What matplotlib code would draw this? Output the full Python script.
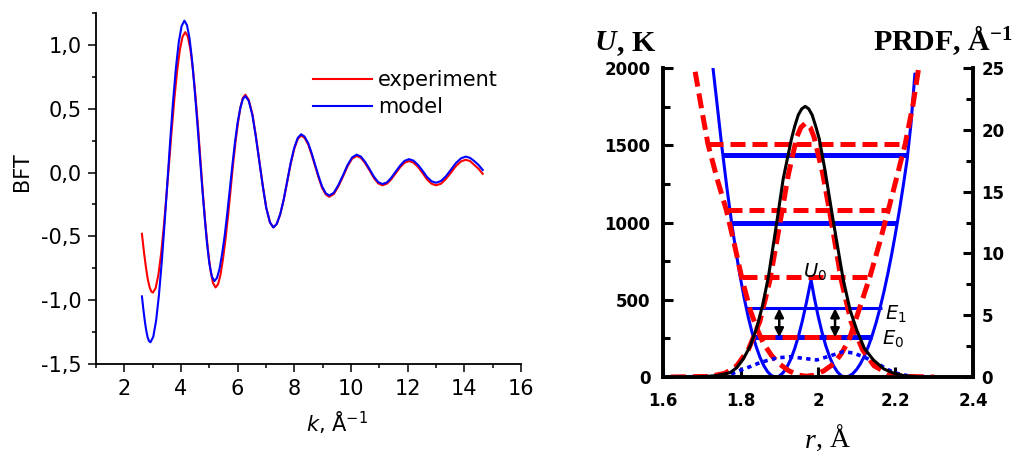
import matplotlib.pyplot as plt
from matplotlib.ticker import MultipleLocator

# ---- left panel: BFT(k) ----
k_exp = [2.62, 2.69, 2.76, 2.83, 2.90, 2.96,
         3.01, 3.105, 3.20, 3.295, 3.39, 3.485, 3.58, 3.675, 3.77, 3.865, 3.96, 4.055,
         4.15, 4.24, 4.33, 4.42, 4.51, 4.60, 4.685, 4.77, 4.86, 4.95, 5.04, 5.13,
         5.22, 5.31, 5.395, 5.48, 5.57, 5.66, 5.745, 5.83, 5.92, 6.01, 6.095, 6.18,
         6.27, 6.39, 6.52, 6.64, 6.765, 6.89, 7.01, 7.14,
         7.26, 7.38, 7.505, 7.63, 7.75, 7.87, 7.995, 8.12,
         8.24, 8.36, 8.49, 8.61, 8.735, 8.86, 8.98, 9.11,
         9.23, 9.39, 9.55, 9.72, 9.88, 10.04, 10.20,
         10.35, 10.50, 10.66, 10.81, 10.96, 11.11,
         11.27, 11.42, 11.58, 11.74, 11.89, 12.05,
         12.21, 12.37, 12.53, 12.68, 12.84, 13.00,
         13.18, 13.35, 13.53, 13.70, 13.88, 14.05,
         14.20, 14.35, 14.50, 14.65]
bft_exp = [-0.48, -0.62, -0.74, -0.84, -0.905, -0.935,
           -0.94, -0.905, -0.803, -0.641, -0.43, -0.184, 0.08, 0.344, 0.59, 0.801, 0.963, 1.065,
           1.10, 1.066, 0.966, 0.807, 0.60, 0.359, 0.10, -0.159, -0.40, -0.607, -0.766, -0.866,
           -0.90, -0.874, -0.799, -0.679, -0.523, -0.340, -0.145, 0.050, 0.233, 0.389, 0.509, 0.584,
           0.61, 0.570, 0.458, 0.289, 0.09, -0.109, -0.278, -0.390,
           -0.43, -0.403, -0.325, -0.208, -0.07, 0.068, 0.185, 0.263,
           0.29, 0.272, 0.220, 0.142, 0.05, -0.042, -0.120, -0.172,
           -0.19, -0.169, -0.11, -0.03, 0.05, 0.109, 0.13,
           0.115, 0.073, 0.015, -0.043, -0.085, -0.10,
           -0.087, -0.053, -0.005, 0.043, 0.077, 0.09,
           0.077, 0.043, -0.005, -0.053, -0.087, -0.10,
           -0.087, -0.05, 0.0, 0.05, 0.087, 0.10,
           0.09, 0.06, 0.03, -0.01]

k_mod = [2.62, 2.67, 2.72, 2.77, 2.82, 2.87,
         2.92, 3.02, 3.12, 3.22, 3.32, 3.42, 3.52, 3.62, 3.72, 3.82, 3.92, 4.02,
         4.12, 4.21, 4.30, 4.385, 4.47, 4.56, 4.65, 4.74, 4.83, 4.915, 5.00, 5.09,
         5.18, 5.27, 5.36, 5.45, 5.545, 5.635, 5.725, 5.815, 5.905, 5.995, 6.09, 6.18,
         6.27, 6.39, 6.52, 6.64, 6.765, 6.89, 7.01, 7.14,
         7.26, 7.38, 7.505, 7.63, 7.75, 7.87, 7.995, 8.12,
         8.24, 8.36, 8.49, 8.61, 8.735, 8.86, 8.98, 9.11,
         9.23, 9.39, 9.55, 9.72, 9.88, 10.04, 10.20,
         10.35, 10.50, 10.66, 10.81, 10.96, 11.11,
         11.27, 11.42, 11.58, 11.74, 11.89, 12.05,
         12.21, 12.37, 12.53, 12.68, 12.84, 13.00,
         13.18, 13.35, 13.53, 13.70, 13.88, 14.05,
         14.20, 14.35, 14.50, 14.65]
bft_mod = [-0.97, -1.07, -1.16, -1.235, -1.29, -1.32,
           -1.33, -1.287, -1.161, -0.961, -0.70, -0.396, -0.07, 0.256, 0.56, 0.821, 1.021, 1.147,
           1.19, 1.155, 1.053, 0.891, 0.68, 0.434, 0.17, -0.094, -0.34, -0.551, -0.713, -0.815,
           -0.85, -0.825, -0.753, -0.638, -0.488, -0.313, -0.125, 0.063, 0.238, 0.388, 0.503, 0.575,
           0.60, 0.561, 0.449, 0.282, 0.085, -0.112, -0.279, -0.391,
           -0.43, -0.402, -0.323, -0.205, -0.065, 0.075, 0.193, 0.272,
           0.30, 0.282, 0.230, 0.152, 0.06, -0.032, -0.110, -0.162,
           -0.18, -0.159, -0.10, -0.02, 0.06, 0.119, 0.14,
           0.125, 0.083, 0.025, -0.033, -0.075, -0.09,
           -0.077, -0.041, 0.008, 0.056, 0.092, 0.105,
           0.093, 0.059, 0.013, -0.034, -0.068, -0.08,
           -0.066, -0.029, 0.023, 0.074, 0.111, 0.125,
           0.115, 0.09, 0.06, 0.02]

bft_yticks = [-1.5, -1.0, -0.5, 0.0, 0.5, 1.0]
bft_ylabels = ["-1,5", "-1,0", "-0,5", "0,0", "0,5", "1,0"]
k_xticks = [2, 4, 6, 8, 10, 12, 14, 16]

# ---- right panel: potentials U(r) in K ----
r_pot_dw = [1.729, 1.74, 1.752, 1.765, 1.778, 1.79, 1.80, 1.81, 1.82, 1.83,
            1.84, 1.85, 1.86, 1.87, 1.88, 1.891,
            1.90, 1.91, 1.92, 1.93, 1.94, 1.95, 1.96, 1.97, 1.982,
            1.99, 2.00, 2.01, 2.02, 2.03, 2.04, 2.05, 2.06, 2.07,
            2.08, 2.09, 2.10, 2.11, 2.12, 2.13, 2.14, 2.15, 2.16, 2.17,
            2.18, 2.19, 2.20, 2.21, 2.22, 2.23, 2.24, 2.25]
u_pot_dw = [2000, 1756, 1488, 1222, 983, 785, 638, 505, 388, 287,
            200, 129, 74, 34, 9, 0,
            6, 28, 65, 117, 185, 268, 367, 481, 630,
            520, 398, 293, 203, 130, 73, 33, 8, 0,
            6, 22, 50, 88, 138, 198, 270, 352, 446, 550,
            666, 792, 930, 1078, 1238, 1408, 1640, 1960]

r_pot_sw = [1.683, 1.70, 1.716, 1.74, 1.764, 1.785, 1.803, 1.825, 1.842, 1.859,
            1.88, 1.90, 1.925, 1.95, 1.97, 1.99, 2.015, 2.04, 2.06, 2.08,
            2.10, 2.117, 2.134, 2.158, 2.181, 2.203, 2.225, 2.245, 2.259]
u_pot_sw = [1976, 1730, 1508, 1280, 1076, 850, 645, 434, 315, 218,
            140, 85, 40, 12, 5, 12, 40, 85, 150, 240,
            390, 520, 649, 860, 1076, 1290, 1508, 1760, 1987]

# energy levels: (U, r_left, r_right)
levels_dw = [(1440, 1.752, 2.231), (995, 1.775, 2.203), (257, 1.836, 2.140)]
level_e1 = (445, 1.815, 2.165)
levels_sw = [(1508, 1.716, 2.225), (1078, 1.764, 2.181), (645, 1.803, 2.134),
             (258, 1.850, 2.082)]

# ---- right panel: PRDF, 1/A ----
r_prdf_black = [1.70, 1.74, 1.773, 1.79, 1.807, 1.825, 1.842, 1.857, 1.872, 1.893,
                1.91, 1.931, 1.94, 1.949, 1.958, 1.967, 1.976, 1.985, 1.994, 2.003,
                2.018, 2.04, 2.065, 2.083,
                2.10, 2.12, 2.143, 2.17, 2.194, 2.22, 2.25]
prdf_black = [0.02, 0.12, 0.35, 0.75, 1.45, 2.5, 4.0, 5.8, 8.1, 12.4,
              16.0, 19.2, 20.3, 21.2, 21.7, 21.9, 21.7, 21.2, 20.3, 19.3,
              16.75, 12.5, 7.9, 5.4,
              3.8, 2.3, 1.38, 0.65, 0.33, 0.12, 0.03]

r_prdf_red = [1.62, 1.72, 1.76, 1.79, 1.82, 1.85, 1.876, 1.902, 1.923, 1.945,
              1.956, 1.968, 1.98, 1.99, 2.012, 2.035, 2.06, 2.085, 2.115, 2.145,
              2.18, 2.22, 2.30]
prdf_red = [0, 0.05, 0.3, 0.9, 2.2, 4.5, 7.85, 12.5, 16.3, 19.4,
            20.2, 20.55, 20.2, 19.4, 16.5, 12.5, 7.85, 4.5, 2.2, 0.9,
            0.3, 0.05, 0]

r_prdf_blue = [1.62, 1.70, 1.75, 1.781, 1.80, 1.825, 1.845, 1.868, 1.895, 1.928,
               1.96, 1.997, 2.03, 2.065, 2.09, 2.117, 2.14, 2.16, 2.18, 2.203,
               2.24, 2.30]
prdf_blue = [0, 0, 0.05, 0.3, 0.55, 0.84, 1.1, 1.33, 1.55, 1.64,
             1.52, 1.38, 1.7, 2.05, 1.95, 1.64, 1.3, 0.97, 0.6, 0.3,
             0.05, 0]

u_ticks = [0, 500, 1000, 1500, 2000]
prdf_ticks = [0, 5, 10, 15, 20, 25]
r_ticks = [1.6, 1.8, 2.0, 2.2, 2.4]
r_ticklabels = ["1.6", "1.8", "2", "2.2", "2.4"]

RED = "#ff0000"
BLUE = "#0000ff"
DASH = (3.0, 1.4)

plt.rcParams["font.family"] = ["DejaVu Sans"]
plt.rcParams["mathtext.default"] = "regular"

fig = plt.figure(figsize=(10.13, 4.55), dpi=100)

# ---------------- left panel ----------------
ax1 = fig.add_axes([0.0948, 0.2, 0.4195, 0.7714])
ax1.plot(k_exp, bft_exp, color=RED, lw=1.5, label="experiment")
ax1.plot(k_mod, bft_mod, color=BLUE, lw=1.5, label="model")
ax1.set_xlim(1, 16)
ax1.set_ylim(-1.5, 1.25)
ax1.set_xticks(k_xticks, [str(v) for v in k_xticks])
ax1.set_yticks(bft_yticks, bft_ylabels)
ax1.xaxis.set_minor_locator(MultipleLocator(1))
ax1.yaxis.set_minor_locator(MultipleLocator(0.25))
ax1.tick_params(which="major", direction="out", length=5.5, width=1.1,
                labelsize=15, pad=5)
ax1.tick_params(which="minor", direction="out", length=3, width=1.1)
for side in ("top", "right"):
    ax1.spines[side].set_visible(False)
for side in ("left", "bottom"):
    ax1.spines[side].set_linewidth(1.3)
ax1.set_ylabel("BFT", fontsize=15)
ax1.yaxis.set_label_coords(-0.15, 0.547)
ax1.set_xlabel(r"$\mathit{k}$, Å$^{-1}$", fontsize=15)
ax1.xaxis.set_label_coords(0.567, -0.13)
ax1.legend(loc="center left", bbox_to_anchor=(0.511, 0.77), frameon=False,
           fontsize=15, handlelength=2.8, handletextpad=0.3,
           labelspacing=0.35, borderpad=0, borderaxespad=0)

# ---------------- right panel ----------------
ax2 = fig.add_axes([0.6545, 0.1714, 0.306, 0.679])
ax3 = ax2.twinx()

ax2.plot(r_pot_dw, u_pot_dw, color=BLUE, lw=2.2, zorder=2)
for u, r0, r1 in levels_dw:
    ax2.plot([r0, r1], [u, u], color=BLUE, lw=3.6, solid_capstyle="butt", zorder=2)
ax2.plot([level_e1[1], level_e1[2]], [level_e1[0]] * 2, color=BLUE, lw=2.2,
         solid_capstyle="butt", zorder=2)
ax2.plot(r_pot_sw, u_pot_sw, color=RED, lw=3.6, dashes=DASH, zorder=3)
for u, r0, r1 in levels_sw:
    ax2.plot([r0, r1], [u, u], color=RED, lw=3.6, dashes=DASH, zorder=3)

for r_arr in (1.900, 2.044):
    ax2.annotate("", xy=(r_arr, level_e1[0]), xytext=(r_arr, levels_dw[2][0]),
                 arrowprops=dict(arrowstyle="<|-|>", color="black", lw=1.8,
                                 mutation_scale=13, shrinkA=0, shrinkB=0),
                 zorder=5)

ax2.text(1.992, 645, r"$\mathit{U}_0$", fontsize=14, ha="center",
         va="baseline", zorder=6)
ax2.text(2.172, 369, r"$\mathit{E}_1$", fontsize=14, ha="left", va="baseline")
ax2.text(2.166, 207, r"$\mathit{E}_0$", fontsize=14, ha="left", va="baseline")

ax3.plot(r_prdf_blue, prdf_blue, color=BLUE, lw=2.6, dashes=(1.2, 1.2))
ax3.plot(r_prdf_red, prdf_red, color=RED, lw=3.6, dashes=DASH)
ax3.plot(r_prdf_black, prdf_black, color="black", lw=2.2)

ax2.set_xlim(1.6, 2.4)
ax2.set_ylim(0, 2000)
ax3.set_ylim(0, 25)
ax2.set_xticks(r_ticks, r_ticklabels, fontweight="bold")
ax2.set_yticks(u_ticks, [str(v) for v in u_ticks], fontweight="bold")
ax3.set_yticks(prdf_ticks, [str(v) for v in prdf_ticks], fontweight="bold")
ax2.yaxis.set_minor_locator(MultipleLocator(250))
ax3.yaxis.set_minor_locator(MultipleLocator(2.5))

for a in (ax2, ax3):
    a.tick_params(which="major", direction="in", length=7, width=2.2,
                  labelsize=12)
    a.tick_params(which="minor", direction="in", length=5, width=2.2)
    a.spines["top"].set_visible(False)
    for side in ("left", "right", "bottom"):
        a.spines[side].set_linewidth(2.6)
ax2.tick_params(axis="y", pad=9)
ax2.tick_params(axis="x", pad=11)
ax3.tick_params(axis="y", pad=6)

# axis titles in serif, as in the original figure
serif = dict(fontfamily="Liberation Serif", fontweight="bold", fontsize=21.5)
t_u = fig.text(595 / 1013, 1 - 50 / 455, "U", style="italic", va="baseline", **serif)
ax2.annotate(", K", xy=(1, 0), xycoords=t_u, ha="left", va="bottom",
             annotation_clip=False, **serif)
fig.text(873 / 1013, 1 - 50 / 455, r"PRDF, Å$^{-1}$", va="baseline", **serif)

t_r = fig.text(805 / 1013, 1 - 448 / 455, "r", fontfamily="Liberation Serif",
               style="italic", fontsize=20, va="baseline")
ax2.annotate(", Å", xy=(1, 0), xycoords=t_r, ha="left", va="bottom",
             fontfamily="Liberation Serif", fontsize=20, annotation_clip=False)

fig.savefig("out.png", dpi=100)
